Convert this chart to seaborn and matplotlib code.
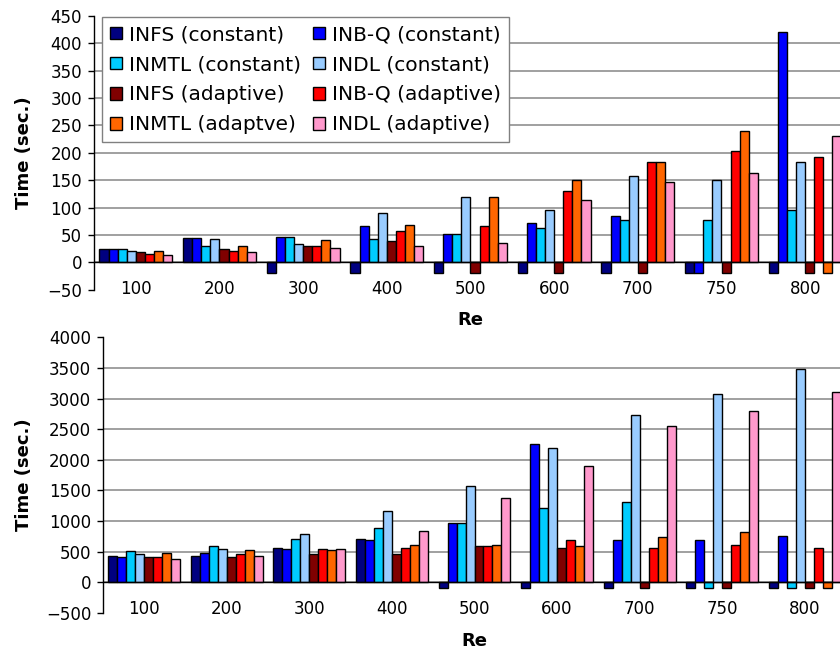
import matplotlib
matplotlib.use("Agg")
import matplotlib.pyplot as plt
import seaborn as sns
import pandas as pd
from matplotlib.ticker import FixedLocator

re_labels = ['100', '200', '300', '400', '500', '600', '700', '750', '800']
series_names = ['INFS (constant)', 'INB-Q (constant)', 'INMTL (constant)', 'INDL (constant)',
                'INFS (adaptive)', 'INB-Q (adaptive)', 'INMTL (adaptve)', 'INDL (adaptive)']
series_colors = ['#000080', '#0000FF', '#00CCFF', '#99CCFF',
                 '#800000', '#FF0000', '#FF6600', '#FF99CC']

# top chart
top_infs_c = [24, 44, -20, -20, -20, -20, -20, -20, -20]
top_inbq_c = [24, 44, 47, 66, 52, 72, 84, -20, 420]
top_inmtl_c = [24, 30, 47, 42, 52, 63, 77, 77, 95]
top_indl_c = [21, 42, 33, 90, 120, 95, 158, 151, 184]
top_infs_a = [18, 24, 29, 39, -20, -20, -20, -20, -20]
top_inbq_a = [15, 21, 29, 58, 66, 131, 184, 203, 192]
top_inmtl_a = [21, 29, 40, 69, 120, 151, 184, 240, -20]
top_indl_a = [13, 18, 27, 29, 36, 114, 146, 163, 230]

# bottom chart
bot_infs_c = [435, 435, 566, 713, -90, -90, -90, -90, -90]
bot_inbq_c = [408, 484, 544, 691, 974, 2259, 691, 691, 762]
bot_inmtl_c = [506, 588, 713, 887, 974, 1214, 1317, -90, -90]
bot_indl_c = [457, 544, 789, 1170, 1578, 2199, 2737, 3069, 3490]
bot_infs_a = [408, 408, 457, 457, 588, 566, -90, -90, -90]
bot_inbq_a = [408, 457, 544, 566, 588, 691, 566, 615, 566]
bot_inmtl_a = [484, 522, 522, 615, 615, 588, 740, 816, -90]
bot_indl_a = [386, 435, 544, 840, 1377, 1905, 2552, 2792, 3102]

top_series = [top_infs_c, top_inbq_c, top_inmtl_c, top_indl_c,
              top_infs_a, top_inbq_a, top_inmtl_a, top_indl_a]
bot_series = [bot_infs_c, bot_inbq_c, bot_inmtl_c, bot_indl_c,
              bot_infs_a, bot_inbq_a, bot_inmtl_a, bot_indl_a]


def make_df(series):
    rows = []
    for name, vals in zip(series_names, series):
        for r, v in zip(re_labels, vals):
            rows.append({'Re': r, 'Time': v, 'Method': name})
    return pd.DataFrame(rows)


sns.set_style('white')
plt.rcParams['font.family'] = ['DejaVu Sans']
plt.rcParams['text.color'] = 'black'
plt.rcParams['axes.labelcolor'] = 'black'
plt.rcParams['xtick.color'] = 'black'
plt.rcParams['ytick.color'] = 'black'

fig = plt.figure(figsize=(8.4, 6.56), dpi=100)
ax_top = fig.add_axes([94 / 840, 1 - 289.7 / 656, 753 / 840, 273.7 / 656])
ax_bot = fig.add_axes([103 / 840, 1 - 612.9 / 656, 743 / 840, 275.6 / 656])


def style_axis(ax, df, ylim, ystep, xlabel_y, show_legend):
    sns.barplot(data=df, x='Re', y='Time', hue='Method', order=re_labels,
                hue_order=series_names, palette=series_colors, saturation=1,
                width=0.87, edgecolor='black', linewidth=1.0, errorbar=None, ax=ax,
                legend=show_legend, zorder=3)
    ax.set_xlim(-0.5, len(re_labels) - 0.5)
    ax.set_ylim(*ylim)
    ax.set_yticks(list(range(ylim[0], ylim[1] + 1, ystep)))
    ax.spines['top'].set_visible(False)
    ax.spines['right'].set_visible(False)
    ax.spines['bottom'].set_position(('data', 0))
    ax.spines['bottom'].set_color('black')
    ax.spines['left'].set_color('black')
    ax.spines['bottom'].set_linewidth(1.0)
    ax.spines['left'].set_linewidth(1.0)
    ax.spines['bottom'].set_zorder(4)
    ax.xaxis.set_minor_locator(FixedLocator([i + 0.5 for i in range(len(re_labels))]))
    ax.tick_params(axis='x', which='major', length=0, pad=12.7, labelsize=12, labelcolor='black')
    ax.tick_params(axis='x', which='minor', length=4.5, width=1, color='black', direction='out')
    ax.tick_params(axis='y', which='major', length=4.5, width=1, color='black',
                   direction='out', left=True, pad=4, labelsize=12, labelcolor='black')
    ax.yaxis.grid(True, color='#999999', linewidth=1.3, zorder=0)
    ax.set_axisbelow(True)
    gl = ax.yaxis.get_gridlines()
    gl[0].set_visible(False)
    gl[-1].set_visible(False)
    ax.set_xlabel('Re', fontsize=13, fontweight='bold', color='black')
    ax.set_ylabel('Time (sec.)', fontsize=13, fontweight='bold', color='black')
    ax.xaxis.set_label_coords(0.5, xlabel_y)


style_axis(ax_top, make_df(top_series), (-50, 450), 50, -0.079, True)
style_axis(ax_bot, make_df(bot_series), (-500, 4000), 500, -0.071, False)
ax_top.yaxis.set_label_coords((33 - 94) / 753, 0.5)
ax_bot.yaxis.set_label_coords((33 - 103) / 743, 0.5)

handles, labels = ax_top.get_legend_handles_labels()
order = [0, 2, 4, 6, 1, 3, 5, 7]
leg = ax_top.legend([handles[i] for i in order], [labels[i] for i in order],
                    ncol=2, loc='upper left', bbox_to_anchor=((102 - 94) / 753, (289.7 - 17) / 273.7),
                    borderaxespad=0, fontsize=14.5, frameon=True, fancybox=False,
                    edgecolor='#808080', framealpha=1, handlelength=0.6, handleheight=0.6,
                    handletextpad=0.35, columnspacing=0.6, labelspacing=0.55, borderpad=0.4)
leg.get_frame().set_linewidth(1.0)
leg.set_zorder(10)
for t in leg.get_texts():
    t.set_color('black')

fig.savefig('out.png', dpi=100)
